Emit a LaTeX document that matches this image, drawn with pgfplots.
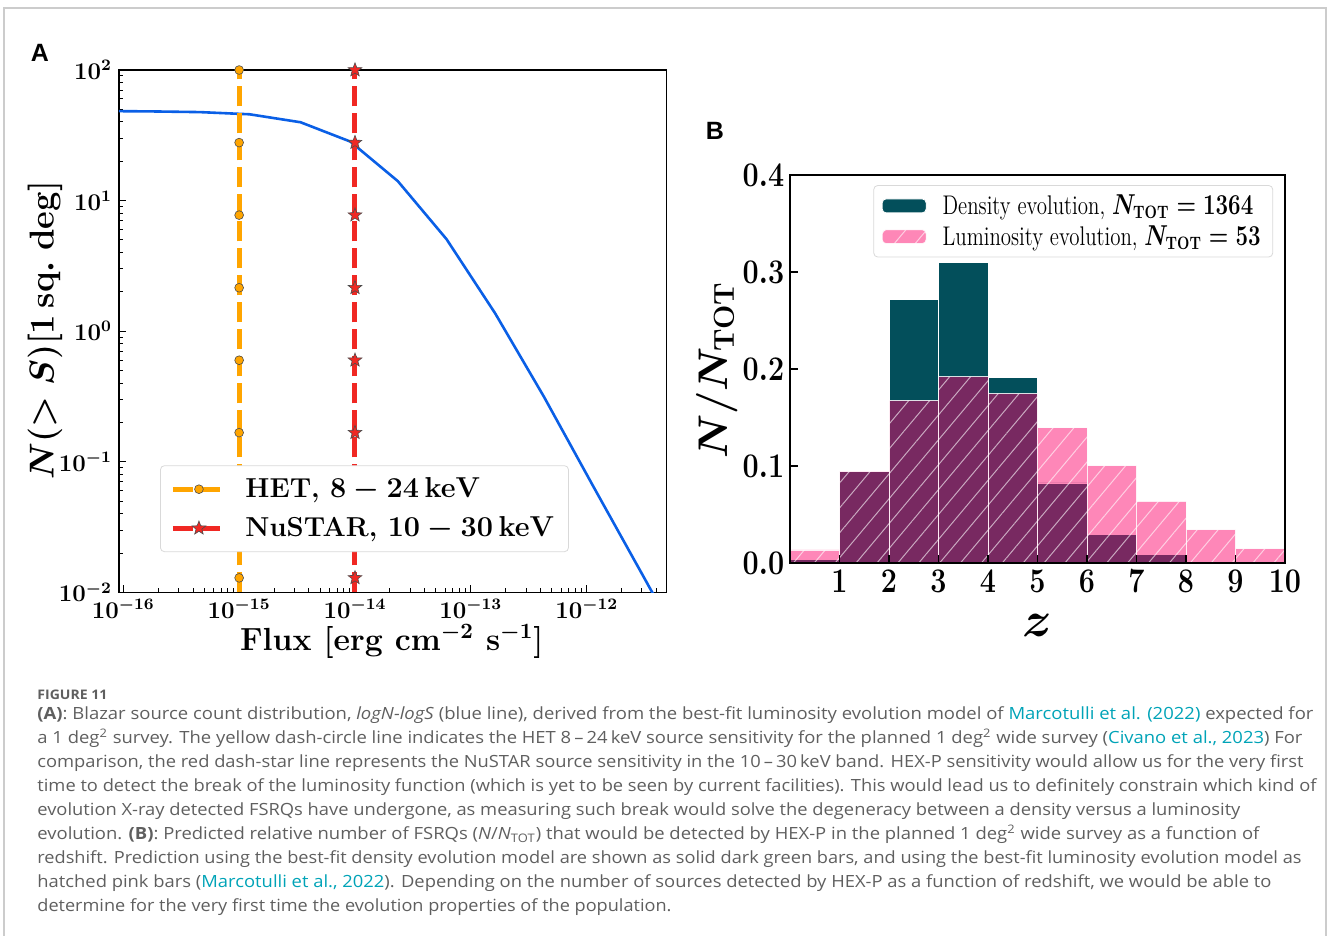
\documentclass[border=0pt]{standalone}
\usepackage{fontspec}
\usepackage{graphicx}
\usepackage{pgfplots}
\pgfplotsset{compat=1.18}
\usetikzlibrary{patterns.meta,plotmarks}
\newfontfamily\capfont{Open Sans}
\newfontfamily\panelfont{Liberation Sans}

\definecolor{blueline}{RGB}{10,95,230}
\definecolor{het}{RGB}{255,165,0}
\definecolor{nustar}{RGB}{240,40,35}
\definecolor{tealc}{RGB}{3,79,91}
\definecolor{pinkc}{RGB}{253,0,104}
\definecolor{capgray}{RGB}{95,95,95}
\definecolor{linkc}{RGB}{0,163,183}

% filled five-pointed star
\pgfdeclareplotmark{fstar}{%
  \pgfpathmoveto{\pgfpointpolar{90}{\pgfplotmarksize}}%
  \pgfpathlineto{\pgfpointpolar{126}{0.42\pgfplotmarksize}}%
  \pgfpathlineto{\pgfpointpolar{162}{\pgfplotmarksize}}%
  \pgfpathlineto{\pgfpointpolar{198}{0.42\pgfplotmarksize}}%
  \pgfpathlineto{\pgfpointpolar{234}{\pgfplotmarksize}}%
  \pgfpathlineto{\pgfpointpolar{270}{0.42\pgfplotmarksize}}%
  \pgfpathlineto{\pgfpointpolar{306}{\pgfplotmarksize}}%
  \pgfpathlineto{\pgfpointpolar{342}{0.42\pgfplotmarksize}}%
  \pgfpathlineto{\pgfpointpolar{18}{\pgfplotmarksize}}%
  \pgfpathlineto{\pgfpointpolar{54}{0.42\pgfplotmarksize}}%
  \pgfpathclose\pgfusepathqfillstroke}

\newcommand\capline[3]{\node[anchor=base west,inner sep=0pt,text=capgray] at (18.5pt,-#1) {\resizebox{#2}{\height}{\capfont\fontsize{8.4}{10}\selectfont #3}};}

\begin{document}
\begin{tikzpicture}
\path[use as bounding box] (0,0) rectangle (664pt,-468pt);
\draw[black!20,line width=1pt] (2.2pt,-475pt) -- (2.2pt,-3.8pt) -- (663.2pt,-3.8pt) -- (663.2pt,-475pt);

\node[font=\panelfont\bfseries\fontsize{12.5}{14}\selectfont] at (20pt,-26.5pt) {A};
\node[font=\panelfont\bfseries\fontsize{12.5}{14}\selectfont] at (357.5pt,-65.5pt) {B};

% ---------- panel A: logN-logS
\begin{axis}[
  at={(59.5pt,-296.15pt)}, anchor=south west,
  scale only axis, width=273.85pt, height=261.15pt,
  xmode=log, ymode=log,
  xmin=9.18e-17, xmax=4.9e-12, ymin=1e-2, ymax=1e2,
  tick align=inside, xtick pos=left, ytick pos=left,
  major tick length=3.5pt, minor tick length=2pt,
  tick style={black,line width=0.5pt},
  axis line style={line width=0.6pt},
  tick label style={font=\fontsize{12}{14}\selectfont\boldmath},
  xlabel={Flux [erg cm$^{-2}$ s$^{-1}$]},
  xlabel style={font=\fontsize{16}{19}\selectfont\bfseries\boldmath,inner sep=0pt,at={(axis description cs:0.498,-0.094)},anchor=center},
  ylabel={$N(>S)[1\,\mathbf{sq.\ deg}]$},
  ylabel style={font=\fontsize{17}{20}\selectfont\boldmath,at={(axis description cs:-0.135,0.502)},anchor=center,rotate=0},
  legend style={at={(0.075,0.077)},anchor=south west,draw=black!15,rounded corners=2pt,
    font=\fontsize{13.7}{15}\selectfont\bfseries\boldmath,inner xsep=5pt,inner ysep=4pt,row sep=4pt,
    /tikz/every odd column/.append style={column sep=7pt}},
  legend cell align=left,
]
\addplot[blueline,line width=1.3pt,forget plot] coordinates {
  (6.31e-17,48.5) (1.70e-16,48.2) (4.57e-16,47.6) (1.23e-15,45.8)
  (3.39e-15,39.8) (9.12e-15,28.3) (2.34e-14,14.1) (6.17e-14,5.06)
  (1.62e-13,1.37) (4.27e-13,0.315) (1.15e-12,0.0638) (3.09e-12,0.0132)
  (8.32e-12,0.0027)
};
\addplot[het,line width=2.5pt,dash pattern=on 10pt off 3.5pt,forget plot,
  mark=*,mark size=2.2pt,mark indices={2,3,4,5,6,7,8,9},
  mark options={solid,fill=het,draw=black!70,line width=0.3pt}] coordinates {
  (1e-15,0.01) (1e-15,0.0129) (1e-15,0.0464) (1e-15,0.167) (1e-15,0.599)
  (1e-15,2.15) (1e-15,7.74) (1e-15,27.8) (1e-15,100)
};
\addplot[nustar,line width=2.5pt,dash pattern=on 10pt off 3.5pt,forget plot,
  mark=fstar,mark size=3.6pt,mark indices={2,3,4,5,6,7,8,9},
  mark options={solid,fill=nustar,draw=black!70,line width=0.3pt}] coordinates {
  (1e-14,0.01) (1e-14,0.0129) (1e-14,0.0464) (1e-14,0.167) (1e-14,0.599)
  (1e-14,2.15) (1e-14,7.74) (1e-14,27.8) (1e-14,100)
};
\addlegendimage{legend image code/.code={%
  \draw[het,line width=2.5pt,dash pattern=on 10pt off 3.5pt] (0pt,0pt) -- (26pt,0pt);
  \draw plot[only marks,mark=*,mark size=2.2pt,mark options={solid,fill=het,draw=black!70,line width=0.3pt}] coordinates {(13pt,0pt)};}}
\addlegendentry{HET, $8-24\,\mathbf{keV}$}
\addlegendimage{legend image code/.code={%
  \draw[nustar,line width=2.5pt,dash pattern=on 10pt off 3.5pt] (0pt,0pt) -- (26pt,0pt);
  \draw plot[only marks,mark=fstar,mark size=3.6pt,mark options={solid,fill=nustar,draw=black!70,line width=0.3pt}] coordinates {(13pt,0pt)};}}
\addlegendentry{NuSTAR, $10-30\,\mathbf{keV}$}
\end{axis}

% ---------- panel B: redshift histogram
\begin{axis}[
  at={(395pt,-281.5pt)}, anchor=south west,
  scale only axis, width=247.5pt, height=194pt,
  xmin=0, xmax=10, ymin=0, ymax=0.4,
  xtick={1,2,3,4,5,6,7,8,9,10}, ytick={0,0.1,0.2,0.3,0.4},
  tick align=inside, xtick pos=left, ytick pos=left,
  major tick length=4pt, tick style={black,line width=0.6pt},
  axis line style={line width=0.6pt},
  axis on top,
  tick label style={font=\fontsize{18}{20}\selectfont\boldmath,xscale=0.83},
  yticklabel style={/pgf/number format/fixed,/pgf/number format/fixed zerofill,/pgf/number format/precision=1},
  xlabel={$z$},
  xlabel style={font=\fontsize{25}{27}\selectfont\boldmath,inner sep=0pt,at={(axis description cs:0.5,-0.16)},anchor=center},
  ylabel={$N/N_{\mathbf{TOT}}$},
  ylabel style={font=\fontsize{22}{24}\selectfont\boldmath,at={(axis description cs:-0.147,0.497)},anchor=center,rotate=0},
  legend style={at={(0.976,0.974)},anchor=north east,draw=black!15,rounded corners=2pt,
    font=\fontsize{13.5}{15}\selectfont,inner xsep=4pt,inner ysep=2.5pt,row sep=0pt,
    /tikz/every odd column/.append style={column sep=6pt}},
  legend cell align=left,
  legend image code/.code={\draw[#1] (0pt,-3.5pt) rectangle (22pt,3.5pt);},
]
\addplot[ybar interval,fill=tealc,draw=white,line width=0.4pt] coordinates {
  (0,0.004) (1,0.094) (2,0.2716) (3,0.3096) (4,0.191) (5,0.0825)
  (6,0.029) (7,0.0086) (8,0.002) (9,0.0005) (10,0.0005)
};
\addlegendentry{\scalebox{0.775}[1]{Density evolution, \boldmath$N_{\mathbf{TOT}}=\mathbf{1364}$}}
\addplot[ybar interval,fill=pinkc,fill opacity=0.47,draw=white,draw opacity=0.6,line width=0.4pt,
  postaction={pattern={Lines[angle=50,distance=8pt,line width=0.5pt]},pattern color=white}] coordinates {
  (0,0.0135) (1,0.0946) (2,0.1674) (3,0.1919) (4,0.1746) (5,0.1394)
  (6,0.1004) (7,0.0638) (8,0.0345) (9,0.0148) (10,0.0148)
};
\addlegendentry{\scalebox{0.775}[1]{Luminosity evolution, \boldmath$N_{\mathbf{TOT}}=\mathbf{53}$}}
\end{axis}

% ---------- caption
\node[anchor=base west,inner sep=0pt,text=capgray] at (18.5pt,-349.5pt) {\resizebox{35pt}{\height}{\capfont\bfseries\fontsize{6.6}{8}\selectfont FIGURE 11}};
\capline{359.5pt}{638pt}{\textbf{(A)}: Blazar source count distribution, \textit{logN-logS} (blue line), derived from the best-fit luminosity evolution model of \textcolor{linkc}{Marcotulli et al. (2022)} expected for}
\capline{371.5pt}{632.5pt}{a 1 deg\textsuperscript{2} survey. The yellow dash-circle line indicates the HET 8\,–\,24\,keV source sensitivity for the planned 1 deg\textsuperscript{2} wide survey (\textcolor{linkc}{Civano et al., 2023}) For}
\capline{383.5pt}{633pt}{comparison, the red dash-star line represents the NuSTAR source sensitivity in the 10\,–\,30\,keV band. HEX-P sensitivity would allow us for the very first}
\capline{395.5pt}{639.5pt}{time to detect the break of the luminosity function (which is yet to be seen by current facilities). This would lead us to definitely constrain which kind of}
\capline{407.5pt}{601.5pt}{evolution X-ray detected FSRQs have undergone, as measuring such break would solve the degeneracy between a density versus a luminosity}
\capline{419.5pt}{611pt}{evolution. \textbf{(B)}: Predicted relative number of FSRQs (\textit{N}/\textit{N}\textsubscript{TOT}) that would be detected by HEX-P in the planned 1 deg\textsuperscript{2} wide survey as a function of}
\capline{431.5pt}{632pt}{redshift. Prediction using the best-fit density evolution model are shown as solid dark green bars, and using the best-fit luminosity evolution model as}
\capline{443.5pt}{617pt}{hatched pink bars (\textcolor{linkc}{Marcotulli et al., 2022}). Depending on the number of sources detected by HEX-P as a function of redshift, we would be able to}
\capline{455.5pt}{317pt}{determine for the very first time the evolution properties of the population.}
\end{tikzpicture}
\end{document}
